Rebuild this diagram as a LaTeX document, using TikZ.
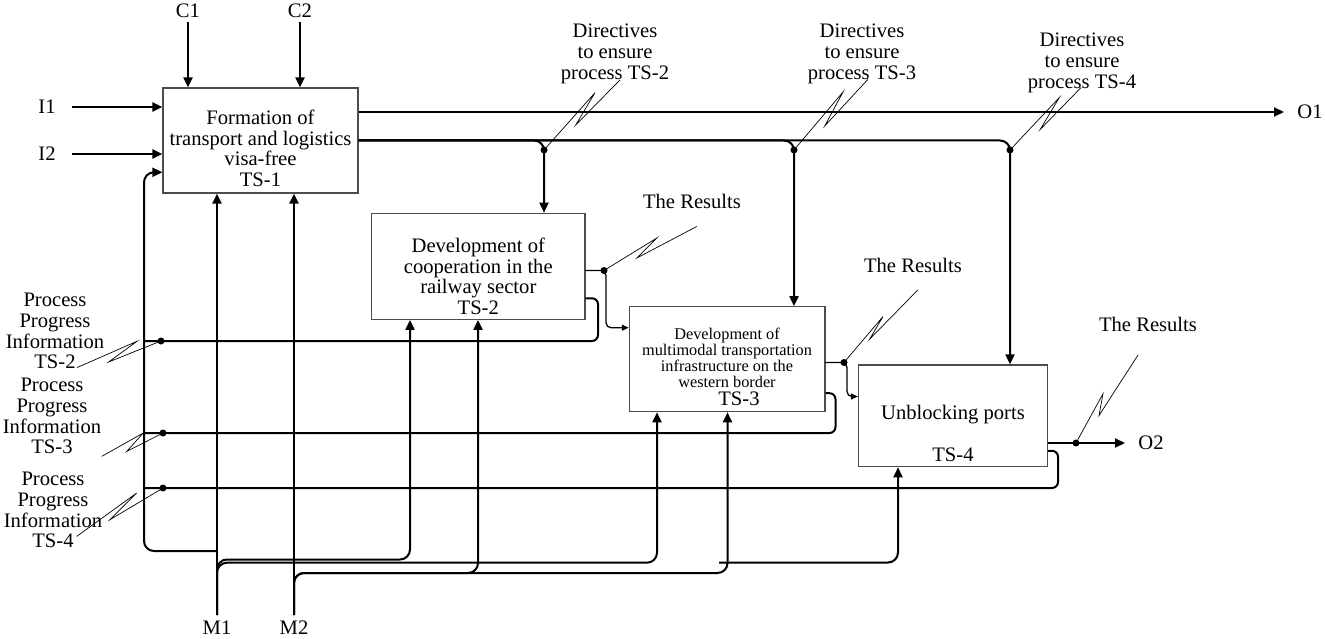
\documentclass[tikz,border=0pt]{standalone}
\usepackage{fontspec}
\setmainfont{Liberation Serif}
\usetikzlibrary{arrows.meta,positioning,calc}
\tikzset{
  procbox/.style={draw=black!70,line width=1.2pt,fill=white,inner sep=0pt},
  boxtext/.style={align=center,font=\fontsize{20.6pt}{20.6pt}\selectfont,inner sep=0pt},
  smalltext/.style={align=center,font=\fontsize{16.3pt}{16pt}\selectfont,inner sep=0pt},
  tag/.style={align=center,font=\fontsize{20.6pt}{20.8pt}\selectfont,inner sep=0pt},
  flow/.style={-{Triangle[length=10pt,width=9pt]},line width=2pt,rounded corners=10pt},
  backflow/.style={line width=2pt,rounded corners=6pt},
  thinflow/.style={-{Triangle[length=7pt,width=6pt]},line width=1.3pt,rounded corners=5pt},
  squiggle/.style={line width=0.7pt},
  junc/.style={circle,fill=black,inner sep=0pt,minimum size=7pt}
}

\begin{document}
\begin{tikzpicture}[x=1pt,y=-1pt]
  \useasboundingbox (0,0) rectangle (1325,639);

  % process boxes
  \node[procbox,minimum width=195pt,minimum height=105pt] (ts1) at (260.5,140.5) {};
  \node[procbox,minimum width=213.5pt,minimum height=106pt] (ts2) at (478.3,266.3) {};
  \node[procbox,minimum width=195.7pt,minimum height=105pt] (ts3) at (727.2,359.2) {};
  \node[procbox,minimum width=189pt,minimum height=101.7pt] (ts4) at (953,415.8) {};

  \node[boxtext] (ts1txt) at (260.5,148.5) {Formation of\\transport and logistics\\visa-free\\TS-1};
  \node[boxtext] (ts2txt) at (478.3,276.5) {Development of\\cooperation in the\\railway sector\\TS-2};
  \node[smalltext] (ts3txt) at (727,358) {Development of\\multimodal transportation\\infrastructure on the\\western border};
  \node[boxtext] (ts3id) at (739,398.3) {TS-3};
  \node[boxtext] (ts4txt) at (953,414.5) {Unblocking ports};
  \node[boxtext] (ts4id) at (953,454.7) {TS-4};

  % arrow labels
  \node[tag] (c1) at (188,11) {C1};
  \node[tag] (c2) at (300,11) {C2};
  \node[tag] (i1) at (47,107) {I1};
  \node[tag] (i2) at (47,154) {I2};
  \node[tag] (o1) at (1310,112) {O1};
  \node[tag] (o2) at (1151,443) {O2};
  \node[tag] (m1) at (217,628) {M1};
  \node[tag] (m2) at (294,628) {M2};
  \node[tag] (dir2) at (615,54) {Directives\\to ensure\\process TS-2};
  \node[tag] (dir3) at (862,54) {Directives\\to ensure\\process TS-3};
  \node[tag] (dir4) at (1082,63) {Directives\\to ensure\\process TS-4};
  \node[tag] (res2) at (692,201) {The Results};
  \node[tag] (res3) at (913,265) {The Results};
  \node[tag] (res4) at (1148,324) {The Results};
  \node[tag] (info2) at (55,331) {Process\\Progress\\Information\\TS-2};
  \node[tag] (info3) at (52,416) {Process\\Progress\\Information\\TS-3};
  \node[tag] (info4) at (53,510) {Process\\Progress\\Information\\TS-4};

  % free ends and bends
  \coordinate (c1in) at (188,22);
  \coordinate (c2in) at (300,22);
  \coordinate (i1in) at (72,107);
  \coordinate (i2in) at (72,154);
  \coordinate (o1out) at (1284,112);
  \coordinate (o2out) at (1125,443);
  \coordinate (m1s) at (217,615);
  \coordinate (m2s) at (294,615);
  \coordinate (m1fb) at (217,551);
  \coordinate (fb1) at (144,551);
  \coordinate (m1b) at (410,559.5);
  \coordinate (m1c) at (657,562.7);
  \coordinate (m2b) at (478,573);
  \coordinate (m2c) at (727.5,573);
  \coordinate (m2d) at (719,562.5);
  \coordinate (m2e) at (898,562.5);
  \coordinate (r2c) at (606,327.7);
  \coordinate (r3c) at (847,396.5);
  \coordinate (fb2c) at (598,341);
  \coordinate (fb3c) at (835.5,433);
  \coordinate (fb4c) at (1058,488);
  \coordinate (p2end) at (143,341);
  \coordinate (p3end) at (143,433);
  \coordinate (p4end) at (143,488);

  % junctions
  \node[junc] (j2) at (544,150) {};
  \node[junc] (j3) at (794,150) {};
  \node[junc] (j4) at (1010,150) {};
  \node[junc] (r2) at (604,270.5) {};
  \node[junc] (r3) at (844,362.5) {};
  \node[junc] (r4) at (1076,443) {};
  \node[junc] (p2) at (161,341) {};
  \node[junc] (p3) at (163,433) {};
  \node[junc] (p4) at (163,488) {};

  % controls and inputs
  \draw[flow] (c1in) -- (c1in |- ts1.north);
  \draw[flow] (c2in) -- (c2in |- ts1.north);
  \draw[flow] (i1in) -- (i1in -| ts1.west);
  \draw[flow] (i2in) -- (i2in -| ts1.west);

  % outputs of TS-1
  \draw[flow] (ts1.east |- o1out) -- (o1out);
  \draw[flow] (ts1.east) -| (j2.center |- ts2.north);
  \draw[flow] (ts1.east) -| (j3.center |- ts3.north);
  \draw[flow] (ts1.east) -| (j4.center |- ts4.north);

  % results between processes
  \draw[thinflow] (ts2.east |- r2.center) -| (r2c) -- (r2c -| ts3.west);
  \draw[thinflow] (ts3.east |- r3.center) -| (r3c) -- (r3c -| ts4.west);
  \draw[flow] (ts4.east |- r4.center) -- (o2out);

  % progress feedback
  \draw[backflow] ([yshift=-32pt]ts2.east) -| (fb2c) -- (p2end);
  \draw[backflow] ([yshift=-34pt]ts3.east) -| (fb3c) -- (p3end);
  \draw[backflow] ([yshift=-35pt]ts4.east) -| (fb4c) -- (p4end);

  % mechanisms
  \draw[flow] (m1fb) -- (fb1) |- ([yshift=-31.8pt]ts1.west);
  \draw[flow] (m1s) -- (m1s |- ts1.south);
  \draw[flow] (m1s) |- (m1b) -- (m1b |- ts2.south);
  \draw[flow] (m1s) |- (m1c) -- (m1c |- ts3.south);
  \draw[flow] (m2s) -- (m2s |- ts1.south);
  \draw[flow] (m2s) |- (m2b) -- (m2b |- ts2.south);
  \draw[flow] (m2s) |- (m2c) -- (m2c |- ts3.south);
  \draw[flow] (m2d) -- (m2e) -- (m2e |- ts4.south);

  % squiggles to labels
  \draw[squiggle] (j2.center) -- ++(51,-57.3) -- ++(-19.3,32.3) -- ++(44.3,-45);
  \draw[squiggle] (j3.center) -- ++(49,-58) -- ++(-18.3,34) -- ++(43.3,-46.7);
  \draw[squiggle] (j4.center) -- ++(49.3,-52.4) -- ++(-19,31.7) -- ++(40.7,-41.7);
  \draw[squiggle] (r2.center) -- ++(52.7,-32.4) -- ++(-20,20) -- ++(60,-31.6);
  \draw[squiggle] (r3.center) -- ++(39,-46) -- ++(-13.3,22.6) -- ++(48.3,-49.3);
  \draw[squiggle] (r4.center) -- ++(27,-49.3) -- ++(-4,21.8) -- ++(39,-60.5);
  \draw[squiggle] (p2.center) -- ++(-52.4,21) -- ++(28.4,-20.7) -- ++(-60,26.3);
  \draw[squiggle] (p3.center) -- ++(-36.3,18.4) -- ++(16.6,-18.4) -- ++(-41.6,23.4);
  \draw[squiggle] (p4.center) -- ++(-53,31.7) -- ++(26.7,-26.7) -- ++(-60,43.4);
\end{tikzpicture}
\end{document}
